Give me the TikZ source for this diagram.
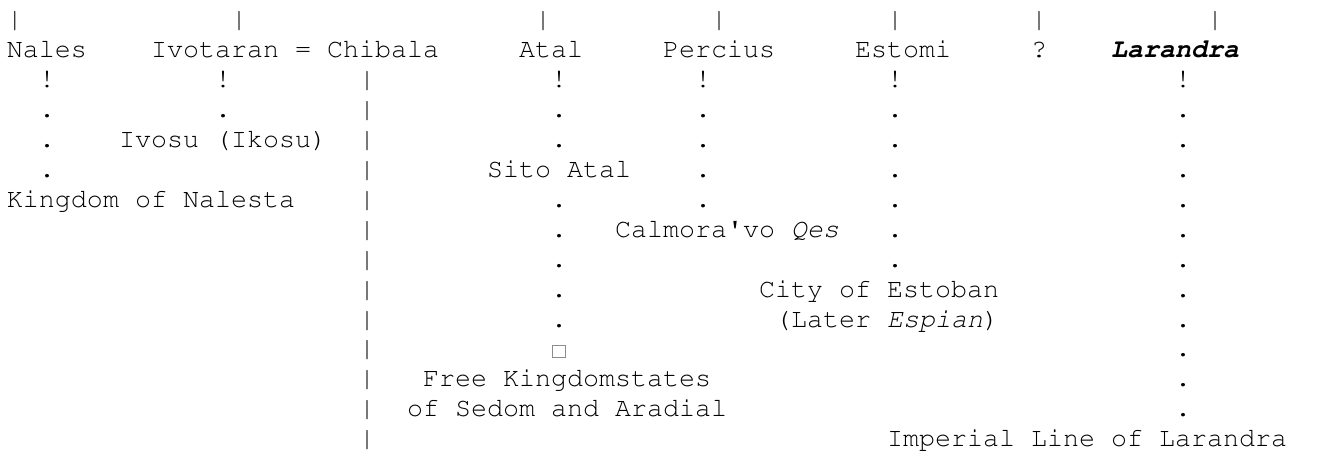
\documentclass[tikz,border=0pt]{standalone}
\usepackage[T1]{fontenc}
\usepackage{courier}
\newcommand\putc[4]{\node[txt] (#1) at ({7+16*(#2)},{28+29.9*((#3)-1)}) {#4};}
\begin{document}
\begin{tikzpicture}[x=0.75pt,y=-0.75pt,
  txt/.style={anchor=base west,inner sep=0pt,outer sep=0pt,
    font=\ttfamily\fontsize{20pt}{22.5pt}\selectfont,text=black},
  missing/.style={draw=black!45,line width=0.6pt,inner sep=0pt,outer sep=0pt,
    minimum width=9.4pt,minimum height=9.4pt}]
\useasboundingbox (0,0) rectangle (1326,456);
% top bars
\foreach \c in {0,14,33,44,55,64,75} {\putc{top\c}{\c}{1}{|}}
% names
\putc{nales}{0}{2}{Nales}
\putc{ivotaran}{9}{2}{Ivotaran = Chibala}
\putc{atal}{32}{2}{Atal}
\putc{percius}{41}{2}{Percius}
\putc{estomi}{53}{2}{Estomi}
\putc{unknown}{64}{2}{?}
\putc{larandra}{69}{2}{\bfseries\itshape Larandra}
% exclamation marks
\foreach \c in {2,13,34,43,55,73} {\putc{ex\c}{\c}{3}{!}}
% dotted lines
\foreach \r in {4,5,6} {\putc{da\r}{2}{\r}{.}}
\putc{db4}{13}{4}{.}
\foreach \r in {4,5,7,8,9,10,11} {\putc{dc\r}{34}{\r}{.}}
\foreach \r in {4,5,6,7} {\putc{dd\r}{43}{\r}{.}}
\foreach \r in {4,...,9} {\putc{de\r}{55}{\r}{.}}
\foreach \r in {4,...,14} {\putc{df\r}{73}{\r}{.}}
% solid line of Chibala
\foreach \r in {3,...,15} {\putc{bar\r}{22}{\r}{|}}
% descendants
\putc{ivosu}{7}{5}{Ivosu (Ikosu)}
\putc{sito}{30}{6}{Sito Atal}
\putc{nalesta}{0}{7}{Kingdom of Nalesta}
\putc{calmora}{38}{8}{Calmora\textquotesingle vo \itshape Qes}
\putc{estoban}{47}{10}{City of Estoban}
\putc{espian}{48}{11}{(Later {\itshape Espian})}
\node[missing] (box) at (559,351.5) {};
\putc{free}{26}{13}{Free Kingdomstates}
\putc{sedom}{25}{14}{of Sedom and Aradial}
\putc{imperial}{55}{15}{Imperial Line of Larandra}
\end{tikzpicture}
\end{document}
